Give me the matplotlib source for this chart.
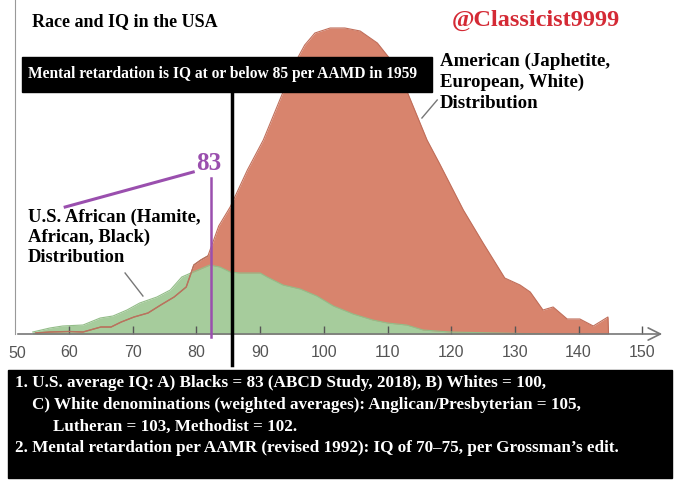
import matplotlib
matplotlib.use("Agg")
import matplotlib.pyplot as plt
from matplotlib.patches import Rectangle

# IQ values and curve heights (height in arbitrary units)
red_iq = [54.8, 57, 60, 62.2, 65, 66.6, 68.2, 70.2, 72.4, 74.4, 76.5, 78.4, 79.6, 80.7,
          81.8, 82.6, 83.5, 85.3, 88, 90.5, 93.6, 95.8, 97, 98.6, 101, 103.3, 105.7,
          108.4, 110.4, 113.1, 116.2, 118.2, 121.9, 125, 128.4, 130.8, 132.4, 134.4,
          136, 138.2, 140.2, 142.3, 144.6, 144.7]
red_h = [1, 2, 2.5, 2, 7, 7, 12, 17, 21, 29, 37, 47, 69, 74,
         78, 92, 108, 127, 164, 194, 242, 275, 289, 301, 306, 306, 303,
         291, 275, 242, 194, 170, 124, 91, 56, 49, 42, 24,
         27, 15, 15, 8, 17, 0]

green_iq = [54.3, 57, 59, 62.2, 64.9, 66.9, 69.1, 71.1, 73.8, 75.9, 77.7, 79.5, 82.1,
            83.7, 85.3, 86.8, 90, 91.1, 93.6, 96.3, 98.9, 101.5, 104.6, 107.7, 110,
            113, 115.6, 119.8, 127, 135]
green_h = [2, 6, 8, 9, 16, 18, 24, 31, 37, 44, 57, 62, 69,
           67, 62, 61, 61, 57, 49, 45, 38, 28, 20, 14, 11,
           9, 4, 2, 1, 0]

ticks = [60, 70, 80, 90, 100, 110, 120, 130, 140, 150]
cutoff_1959 = 85.6
black_mean = 82.3

title = "Race and IQ in the USA"
handle = "@Classicist9999"
box_text = "Mental retardation is IQ at or below 85 per AAMD in 1959"
white_label = ["American (Japhetite,", "European, White)", "Distribution"]
black_label = ["U.S. African (Hamite,", "African, Black)", "Distribution"]
notes = [
    (15, "1. U.S. average IQ: A) Blacks = 83 (ABCD Study, 2018), B) Whites = 100,"),
    (32, "C) White denominations (weighted averages): Anglican/Presbyterian = 105,"),
    (53, "Lutheran = 103, Methodist = 102."),
    (15, "2. Mental retardation per AAMR (revised 1992): IQ of 70\u201375, per Grossman\u2019s edit."),
]

W, H = 680, 487
fig = plt.figure(figsize=(W / 100, H / 100), dpi=100)


def fx(x):
    return x / W


def fy(y):
    return 1 - y / H


serif = "Liberation Serif"
purple = "#9a4fae"
tickfont = "Liberation Sans"

ax = fig.add_axes([fx(15), fy(334), (665 - 15) / W, 334 / H])
ax.set_xlim(51.52, 153.56)
ax.set_ylim(0, 334)

ax.fill_between(red_iq, red_h, color="#d8846d", lw=0)
ax.plot(red_iq, red_h, color="#c06e5a", lw=0.8)
ax.fill_between(green_iq, green_h, color="#a6cc9c", lw=0)
ax.plot(green_iq, green_h, color="#93bd88", lw=0.8)
# red outline shows through the green on the low end
low = [i for i, v in enumerate(red_iq) if v <= 82]
ax.plot([red_iq[i] for i in low], [red_h[i] for i in low], color="#b8735e", lw=1)

for s in ["top", "right", "bottom"]:
    ax.spines[s].set_visible(False)
ax.spines["left"].set_color("#999999")
ax.set_yticks([])
ax.set_xticks(ticks)
ax.tick_params(axis="x", direction="in", length=6, width=1, color="#555555",
               pad=8, labelsize=11.5, labelcolor="#555555")
for lab in ax.get_xticklabels():
    lab.set_fontfamily(tickfont)
fig.text(fx(17), fy(353), "50", ha="center", va="center", fontsize=11.5,
         color="#555555", family=tickfont)

ax.annotate("", xy=(153.56, 0), xytext=(51.52, 0),
            arrowprops=dict(arrowstyle="->", color="#777777", lw=1.2, mutation_scale=22),
            annotation_clip=False)

# cutoff line and average marker
ax.plot([cutoff_1959, cutoff_1959], [242, -31], color="black", lw=2.5, clip_on=False, zorder=5)
ax.plot([black_mean, black_mean], [156, -3], color=purple, lw=1.8, clip_on=False, zorder=5)
ax.plot([59.4, 79.5], [127, 162], color=purple, lw=2.2, clip_on=False, zorder=5)

# pointer lines
ax.plot([115.4, 117.8], [216, 234], color="#777777", lw=1, clip_on=False)
ax.plot([68.8, 71.6], [61, 38], color="#777777", lw=1, clip_on=False)

# boxes
fig.add_artist(Rectangle((fx(22), fy(92)), (432 - 22) / W, (92 - 57) / H,
                         transform=fig.transFigure, color="black", zorder=3))
fig.add_artist(Rectangle((fx(8), fy(478)), (672 - 8) / W, (478 - 370) / H,
                         transform=fig.transFigure, color="black", zorder=3))

fig.text(fx(32), fy(22), title, ha="left", va="center", fontsize=13,
         fontweight="bold", family=serif, color="black")
fig.text(fx(452), fy(20), handle, ha="left", va="center", fontsize=17.5,
         fontweight="bold", family=serif, color="#d42a35")
fig.text(fx(222), fy(74), box_text, ha="center", va="center", fontsize=11.2,
         fontweight="bold", family=serif, color="white", zorder=4)
for i, line in enumerate(white_label):
    fig.text(fx(440), fy(61 + i * 21), line, ha="left", va="center", fontsize=13.6,
             fontweight="bold", family=serif, color="black")
for i, line in enumerate(black_label):
    fig.text(fx(28), fy(217 + i * 20.5), line, ha="left", va="center", fontsize=13.4,
             fontweight="bold", family=serif, color="black")
fig.text(fx(209), fy(163), "83", ha="center", va="center", fontsize=18,
         fontweight="bold", family=serif, color=purple)

for i, (x0, line) in enumerate(notes):
    fig.text(fx(x0), fy(383 + i * 21.7), line, ha="left", va="center", fontsize=12.3,
             fontweight="bold", family=serif, color="white", zorder=4)

fig.savefig("out.png", dpi=100)
